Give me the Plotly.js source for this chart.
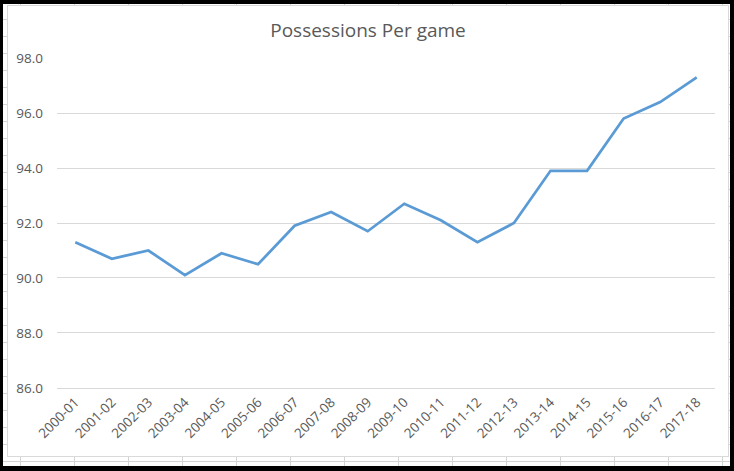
<!DOCTYPE html>
<html>
<head>
<meta charset="utf-8">
<script src="https://cdn.plot.ly/plotly-3.0.1.min.js"></script>
<style>
  html, body { margin: 0; padding: 0; width: 734px; height: 471px; background: #000; overflow: hidden; }
  #sheet {
    position: absolute; left: 3px; top: 4px; width: 727px; height: 462px;
    background-color: #fff;
    background-image:
      repeating-linear-gradient(to right, transparent 0px, transparent 17px, #d4d4d4 17px, #d4d4d4 18px, transparent 18px, transparent 54px),
      repeating-linear-gradient(to bottom, transparent 0px, transparent 15px, #d4d4d4 15px, #d4d4d4 16px, transparent 16px, transparent 17px);
  }
  #chart {
    position: absolute; left: 7px; top: 5px; width: 722px; height: 452px;
    box-sizing: border-box; border: 1px solid #d9d9d9; background: #fff;
  }
</style>
</head>
<body>
<div id="sheet"></div>
<div id="chart"><div id="plot"></div></div>
<script>
const seasons = ["2000-01","2001-02","2002-03","2003-04","2004-05","2005-06","2006-07","2007-08","2008-09",
                 "2009-10","2010-11","2011-12","2012-13","2013-14","2014-15","2015-16","2016-17","2017-18"];
const possessions = [91.3, 90.7, 91.0, 90.1, 90.9, 90.5, 91.9, 92.4, 91.7,
                     92.7, 92.1, 91.3, 92.0, 93.9, 93.9, 95.8, 96.4, 97.3];
const yTicks = [86, 88, 90, 92, 94, 96, 98];
const chartTitle = "Possessions Per game";

const font = "'Open Sans', 'Liberation Sans', sans-serif";
Plotly.newPlot("plot", [{
  x: seasons,
  y: possessions,
  type: "scatter",
  mode: "lines",
  line: { color: "#5B9BD5", width: 2.75, shape: "linear" },
  hoverinfo: "skip"
}], {
  width: 720, height: 450,
  margin: { l: 49, r: 13, t: 52, b: 68 },
  paper_bgcolor: "#ffffff",
  plot_bgcolor: "#ffffff",
  showlegend: false,
  title: {
    text: chartTitle,
    x: 0.5, xanchor: "center",
    y: 0.947, yanchor: "middle",
    font: { family: font, size: 19, color: "#595959" }
  },
  xaxis: {
    type: "category",
    tickmode: "array", tickvals: seasons, ticktext: seasons,
    tickangle: -45,
    tickfont: { family: font, size: 13.5, color: "#595959" },
    showgrid: false, zeroline: false,
    showline: true, linecolor: "#d9d9d9", linewidth: 1,
    ticks: "", range: [-0.5, 17.5]
  },
  yaxis: {
    range: [85.999, 98.001],
    tickmode: "array", tickvals: yTicks,
    tickformat: ".1f",
    tickfont: { family: font, size: 13.5, color: "#595959" },
    showgrid: true, gridcolor: "#d9d9d9", gridwidth: 1,
    zeroline: false, showline: false, ticks: "",
    ticklabelstandoff: 13
  }
}, { staticPlot: true, displayModeBar: false });
</script>
</body>
</html>
